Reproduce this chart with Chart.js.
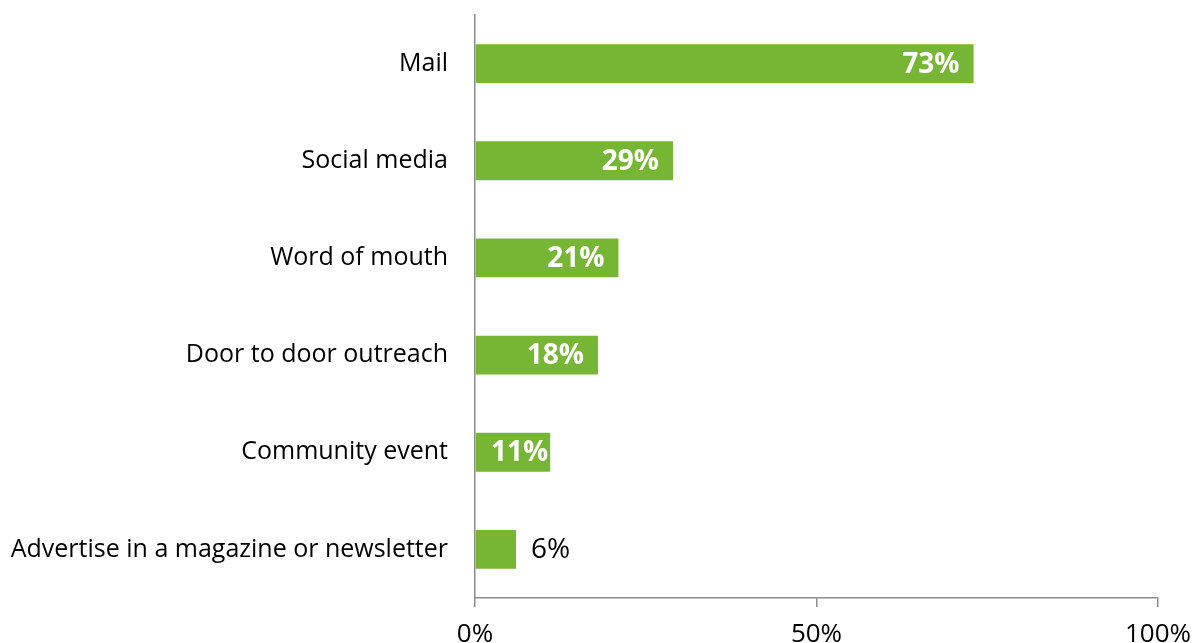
<!DOCTYPE html>
<html>
<head>
<meta charset="utf-8">
<script src="https://cdn.jsdelivr.net/npm/chart.js@4"></script>
<style>
    html, body { margin: 0; padding: 0; background: #fff; }
    #wrap { width: 1192px; height: 643px; }
</style>
</head>
<body>
<div id="wrap"><canvas id="barChart" width="1192" height="643"></canvas></div>
<script>
// Outreach channels and share of respondents (%)
const categories = ['Mail', 'Social media', 'Word of mouth', 'Door to door outreach', 'Community event', 'Advertise in a magazine or newsletter'];
const shares = [73, 29, 21, 18, 11, 6];
const xTicks = [0, 50, 100];

const FONT = "'Open Sans', sans-serif";
const GREEN = '#76b634';
const AXIS = '#8c8c8c';

// Percent labels: inside the bar end when they fit, otherwise just after it
const valueLabels = {
    id: 'valueLabels',
    afterDatasetsDraw(chart) {
        const ctx = chart.ctx;
        const meta = chart.getDatasetMeta(0);
        ctx.save();
        ctx.textBaseline = 'middle';
        meta.data.forEach((bar, i) => {
            const txt = shares[i] + '%';
            ctx.font = 'bold 28px ' + FONT;
            const w = ctx.measureText(txt).width;
            const barW = bar.x - bar.base;
            if (w + 4 < barW) {
                const pad = Math.max(2, Math.min(14, barW - w - 16));
                ctx.fillStyle = '#fff';
                ctx.textAlign = 'right';
                ctx.fillText(txt, bar.x - pad, bar.y + 1);
            } else {
                ctx.font = '28px ' + FONT;
                ctx.fillStyle = '#000';
                ctx.textAlign = 'left';
                ctx.fillText(txt, bar.x + 15, bar.y + 1);
            }
        });
        ctx.restore();
    }
};

new Chart(document.getElementById('barChart'), {
    type: 'bar',
    data: {
        labels: categories,
        datasets: [{
            data: shares,
            backgroundColor: GREEN,
            borderWidth: 0,
            categoryPercentage: 1,
            barPercentage: 0.4
        }]
    },
    options: {
        indexAxis: 'y',
        responsive: false,
        animation: false,
        layout: { padding: { top: 15, right: 34, left: 0, bottom: 0 } },
        plugins: { legend: { display: false }, tooltip: { enabled: false } },
        scales: {
            x: {
                min: 0,
                max: 100,
                afterBuildTicks: (scale) => { scale.ticks = xTicks.map(v => ({ value: v })); },
                afterFit: (scale) => {
                    scale.height = 45;
                    scale.paddingLeft = 0;
                    scale.paddingRight = 0;
                },
                grid: { drawOnChartArea: false, drawTicks: true, tickLength: 9, color: AXIS, lineWidth: 1.5 },
                border: { display: true, color: AXIS, width: 1.5 },
                ticks: {
                    padding: 12,
                    color: '#000',
                    font: { family: FONT, size: 26 },
                    maxRotation: 0,
                    callback: (v) => v + '%'
                }
            },
            y: {
                afterFit: (scale) => {
                    scale.width = 475;
                    scale.paddingTop = 0;
                    scale.paddingBottom = 0;
                },
                grid: { display: false, drawTicks: false },
                border: { display: true, color: AXIS, width: 1.5 },
                ticks: {
                    padding: 27,
                    color: '#000',
                    font: { family: FONT, size: 25 }
                }
            }
        }
    },
    plugins: [valueLabels]
});
</script>
</body>
</html>
